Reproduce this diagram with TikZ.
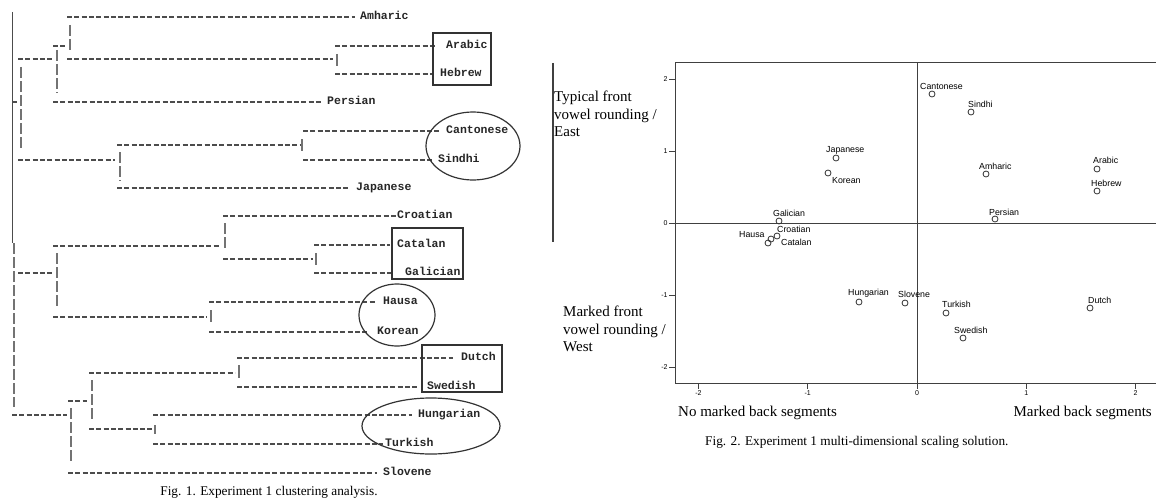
\documentclass[tikz,border=0pt]{standalone}
\usepackage{fontspec}
\setmainfont{Liberation Serif}
\setsansfont{Liberation Sans}
\setmonofont{Liberation Mono}
\tikzset{
  hdash/.style={draw=black!70, line width=1.4pt, dash pattern=on 5pt off 2.3pt},
  vdash/.style={draw=black!55, line width=1.1pt, dash pattern=on 11pt off 3pt},
  vbar/.style={draw=black!55, line width=1.1pt},
  lang/.style={font=\ttfamily\bfseries\fontsize{11.5}{12}\selectfont, text=black!85, anchor=west,
    inner sep=0pt, text height=8pt, text depth=2.5pt},
  grp/.style={draw=black!80, line width=1.2pt},
  frame/.style={draw=black!75, line width=1pt},
  pt/.style={circle, draw=black!80, line width=0.8pt, inner sep=0pt, minimum size=6pt},
  ptlab/.style={font=\sffamily\fontsize{8.8}{9}\selectfont, anchor=west, inner sep=0pt},
  dimtext/.style={font=\fontsize{15}{17.5}\selectfont, align=left, anchor=west, inner sep=0pt},
  tick/.style={font=\sffamily\fontsize{7}{8}\selectfont, inner sep=1pt},
  caption/.style={font=\fontsize{13.3}{15}\selectfont, inner sep=0pt}
}
\begin{document}
\begin{tikzpicture}[x=1pt,y=-1pt]
\useasboundingbox (0,0) rectangle (1156,503);
% dendrogram labels
\node[lang] (amharic) at (360,17) {Amharic};
\node[lang] (arabic) at (446,46) {Arabic};
\node[lang] (hebrew) at (440,74) {Hebrew};
\node[lang] (persian) at (327,102) {Persian};
\node[lang] (cantonese) at (446,131) {Cantonese};
\node[lang] (sindhi) at (438,160) {Sindhi};
\node[lang] (japanese) at (356,188) {Japanese};
\node[lang] (croatian) at (397,216) {Croatian};
\node[lang] (catalan) at (397,245) {Catalan};
\node[lang] (galician) at (405,273) {Galician};
\node[lang] (hausa) at (383,302) {Hausa};
\node[lang] (korean) at (377,332) {Korean};
\node[lang] (dutch) at (461,358) {Dutch};
\node[lang] (swedish) at (427,387) {Swedish};
\node[lang] (hungarian) at (418,415) {Hungarian};
\node[lang] (turkish) at (385,444) {Turkish};
\node[lang] (slovene) at (383,473) {Slovene};
% leaves
\draw[hdash] (67,17) -- ([xshift=-5pt]amharic.west);
\draw[hdash] (335,46) -- ([xshift=-9pt]arabic.west);
\draw[hdash] (335,74) -- ([xshift=-8pt]hebrew.west);
\draw[hdash] (53,102) -- ([xshift=-6pt]persian.west);
\draw[hdash] (303,131) -- ([xshift=-6pt]cantonese.west);
\draw[hdash] (303,160) -- ([xshift=-5pt]sindhi.west);
\draw[hdash] (117,188) -- ([xshift=-8pt]japanese.west);
\draw[hdash] (223,216) -- (croatian.west);
\draw[hdash] (314,245) -- ([xshift=-7pt]catalan.west);
\draw[hdash] (314,273) -- ([xshift=-12pt]galician.west);
\draw[hdash] (209,302) -- ([xshift=-7pt]hausa.west);
\draw[hdash] (209,332) -- ([xshift=-9pt]korean.west);
\draw[hdash] (237,358) -- ([xshift=-8pt]dutch.west);
\draw[hdash] (237,387) -- ([xshift=-9pt]swedish.west);
\draw[hdash] (153,415) -- ([xshift=-6pt]hungarian.west);
\draw[hdash] (153,444) -- ([xshift=-2pt]turkish.west);
\draw[hdash] (68,473) -- ([xshift=-6pt]slovene.west);
% joins
\draw[hdash] (67,59) -- (333,59); \draw[vbar] (337,54) -- (337,66); % arabic/hebrew
\draw[hdash] (53,46) -- (67,46); \draw[vdash] (70,25) -- (70,52);
\draw[hdash] (18,59) -- (52,59); \draw[vdash] (57,50) -- (57,93);
\draw[vdash] (21,67) -- (21,150); \draw[hdash] (12,102) -- (17,102);
\draw[hdash] (117,145) -- (300,145); \draw[vbar] (302,139) -- (302,151); % cantonese/sindhi
\draw[hdash] (18,160) -- (115,160); \draw[vdash] (120,152) -- (120,181);
\draw[vdash] (225,223) -- (225,250);
\draw[hdash] (53,246) -- (220,246);
\draw[hdash] (223,259) -- (313,259); \draw[vbar] (316,253) -- (316,265); % catalan/galician
\draw[hdash] (18,273) -- (52,273); \draw[vdash] (57,253) -- (57,307);
\draw[hdash] (53,317) -- (207,317); \draw[vbar] (211,310) -- (211,322); % hausa/korean
\draw[hdash] (89,373) -- (235,373); \draw[vbar] (239,365) -- (239,378); % dutch/swedish
\draw[vdash] (92,380) -- (92,420);
\draw[hdash] (68,401) -- (87,401);
\draw[hdash] (12,415) -- (67,415); \draw[vdash] (71,408) -- (71,463);
\draw[hdash] (89,429) -- (152,429); \draw[vbar] (155,425) -- (155,434); % hungarian/turkish
\draw[black!70, line width=1.5pt] (12.5,12) -- (12.5,243); % root
\draw[vdash] (14,243) -- (14,407);
% groups
\draw[grp] (433,33) rectangle (491,85);
\draw[grp] (473,146) ellipse [x radius=47pt, y radius=34pt];
\draw[grp] (392,228) rectangle (463,279);
\draw[grp] (397,315) ellipse [x radius=38pt, y radius=31pt];
\draw[grp] (422,345) rectangle (502,392);
\draw[grp] (431,426) ellipse [x radius=69pt, y radius=28pt];
\node[caption] (capone) at (269,492) {Fig. 1. Experiment 1 clustering analysis.};
% scaling plot
\draw[black!75, line width=1.2pt] (553,63) -- (553,242);
\node[dimtext] (east) at (554,114) {Typical front\\vowel rounding /\\East};
\node[dimtext] (west) at (563,329) {Marked front\\vowel rounding /\\West};
\draw[frame] (1156,63) -- (675,63) -- (675,383) -- (1156,383);
\draw[frame] (675,223) -- (1156,223);
\draw[frame] (917,63) -- (917,383);
\foreach \v in {-2,...,2}
  \draw[frame] (675,223-72*\v) -- ++(-6,0) node[tick, anchor=east] {\v};
\foreach \v in {-2,...,2}
  \draw[frame] (917+109.3*\v,383) -- ++(0,6) node[tick, anchor=north] {\v};
% points
\node[pt] (p-cantonese) at (932,94) {};
\node[pt] (p-sindhi) at (971,112) {};
\node[pt] (p-amharic) at (986,174) {};
\node[pt] (p-arabic) at (1097,169) {};
\node[pt] (p-hebrew) at (1097,191) {};
\node[pt] (p-persian) at (995,219) {};
\node[pt] (p-japanese) at (836,158) {};
\node[pt] (p-korean) at (828,173) {};
\node[pt] (p-galician) at (779,221) {};
\node[pt] (p-croatian) at (777,236) {};
\node[pt] (p-hausa) at (771,239) {};
\node[pt] (p-catalan) at (768,243) {};
\node[pt] (p-hungarian) at (859,302) {};
\node[pt] (p-slovene) at (905,303) {};
\node[pt] (p-turkish) at (946,313) {};
\node[pt] (p-swedish) at (963,338) {};
\node[pt] (p-dutch) at (1090,308) {};
\node[ptlab] (l-cantonese) at (920,86) {Cantonese};
\node[ptlab] (l-sindhi) at (968,104) {Sindhi};
\node[ptlab] (l-amharic) at (979,166) {Amharic};
\node[ptlab] (l-arabic) at (1093,160) {Arabic};
\node[ptlab] (l-hebrew) at (1091,183) {Hebrew};
\node[ptlab] (l-persian) at (989,212) {Persian};
\node[ptlab] (l-japanese) at (826,150) {Japanese};
\node[ptlab] (l-korean) at (832,181) {Korean};
\node[ptlab] (l-galician) at (773,213) {Galician};
\node[ptlab] (l-croatian) at (777,229) {Croatian};
\node[ptlab] (l-hausa) at (739,235) {Hausa};
\node[ptlab] (l-catalan) at (781,242) {Catalan};
\node[ptlab] (l-hungarian) at (848,293) {Hungarian};
\node[ptlab] (l-slovene) at (898,294) {Slovene};
\node[ptlab] (l-turkish) at (942,304) {Turkish};
\node[ptlab] (l-swedish) at (954,330) {Swedish};
\node[ptlab] (l-dutch) at (1088,300) {Dutch};
% axis titles
\node[dimtext] (noback) at (678,413) {No marked back segments};
\node[dimtext, anchor=east] (back) at (1152,413) {Marked back segments};
\node[caption, anchor=west] (captwo) at (705,442) {Fig. 2. Experiment 1 multi-dimensional scaling solution.};
\end{tikzpicture}
\end{document}
